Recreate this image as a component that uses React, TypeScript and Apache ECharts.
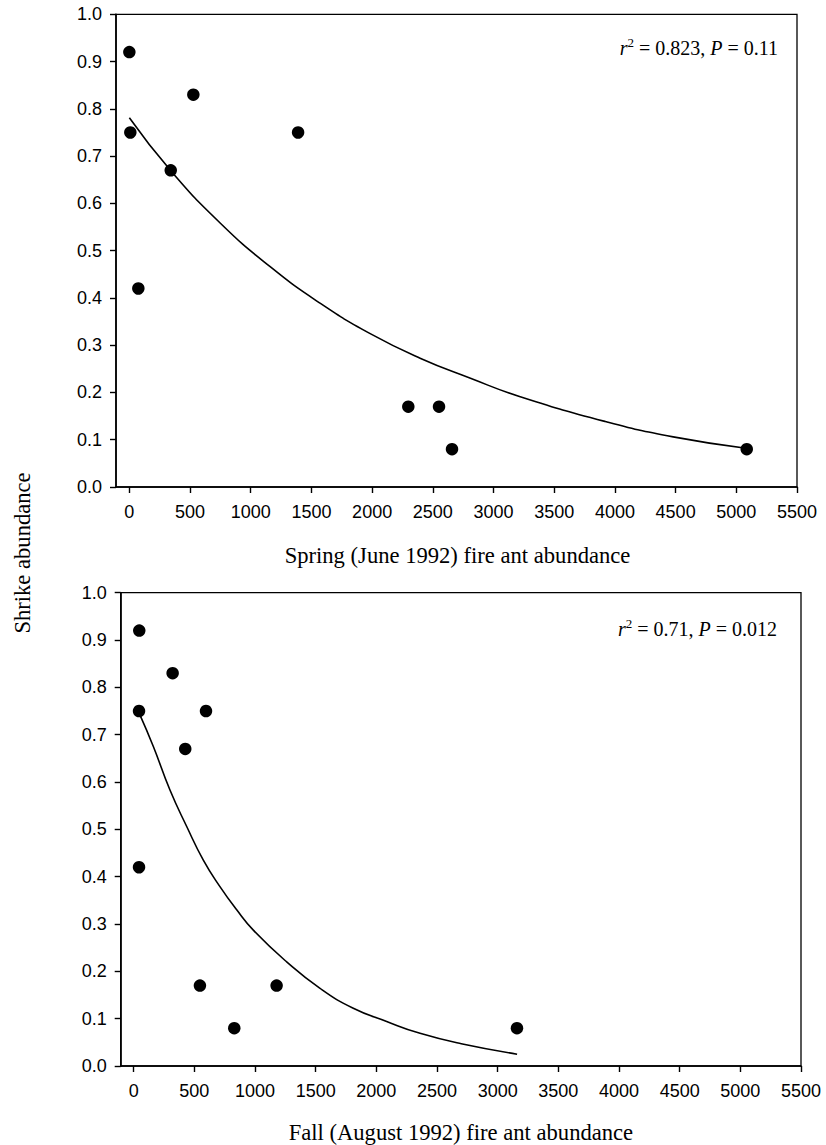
import React, { useEffect, useRef } from 'react';
import * as echarts from 'echarts';

// Spring (June 1992) panel
const springAnts = [0, 8, 74, 341, 527, 1390, 2298, 2551, 2658, 5086];
const springShrike = [0.92, 0.75, 0.42, 0.67, 0.83, 0.75, 0.17, 0.17, 0.08, 0.08];
const springFitX = [0, 335, 750, 1160, 1570, 1980, 2400, 2810, 3220, 3930, 4480, 5080];
const springFitY = [0.781, 0.671, 0.558, 0.466, 0.389, 0.325, 0.272, 0.23, 0.191, 0.138, 0.106, 0.082];

// Fall (August 1992) panel
const fallAnts = [46, 44, 44, 321, 425, 596, 546, 829, 1178, 3159];
const fallShrike = [0.92, 0.75, 0.42, 0.83, 0.67, 0.75, 0.17, 0.08, 0.17, 0.08];
const fallFitX = [46, 162, 299, 437, 574, 711, 849, 986, 1261, 1536, 1810, 2085, 2360, 2700, 3160];
const fallFitY = [0.745, 0.675, 0.583, 0.506, 0.435, 0.379, 0.33, 0.287, 0.22, 0.164, 0.122, 0.094, 0.069, 0.047, 0.025];

const xTicks = [0, 500, 1000, 1500, 2000, 2500, 3000, 3500, 4000, 4500, 5000, 5500];

const springTitle = 'Spring (June 1992) fire ant abundance';
const fallTitle = 'Fall (August 1992) fire ant abundance';
const yTitle = 'Shrike abundance';
const springStat = '{i|r}{sup|2}{t| = 0.823, }{i|P}{t| = 0.11}';
const fallStat = '{i|r}{sup|2}{t| = 0.71, }{i|P}{t| = 0.012}';

const SANS = 'Arial, sans-serif';
const SERIF = '"Liberation Serif", "Times New Roman", serif';
const LABEL_SIZE = 18;

function zip(xs: number[], ys: number[]) {
  return xs.map((x, i) => [x, ys[i]]);
}

function xAxis(gridIndex: number, min: number) {
  return {
    type: 'value',
    gridIndex,
    min,
    max: 5500,
    axisLine: { show: true, onZero: false, lineStyle: { color: '#000', width: 1.6 } },
    axisTick: { show: true, customValues: xTicks, length: 6, lineStyle: { color: '#000', width: 1.4 } },
    axisLabel: {
      customValues: xTicks,
      color: '#000',
      fontFamily: SANS,
      fontSize: LABEL_SIZE,
      margin: 16,
      formatter: (v: number) => String(v),
    },
    splitLine: { show: false },
  };
}

function yAxis(gridIndex: number) {
  return {
    type: 'value',
    gridIndex,
    min: 0,
    max: 1,
    interval: 0.1,
    axisLine: { show: true, onZero: false, lineStyle: { color: '#000', width: 1.6 } },
    axisTick: { show: true, length: 6, lineStyle: { color: '#000', width: 1.4 } },
    axisLabel: {
      color: '#000',
      fontFamily: SANS,
      fontSize: LABEL_SIZE,
      margin: 14,
      formatter: (v: number) => v.toFixed(1),
    },
    splitLine: { show: false },
  };
}

const statRich = {
  t: { fontFamily: SERIF, fontSize: 20, fill: '#000' },
  i: { fontStyle: 'italic', fontFamily: SERIF, fontSize: 20, fill: '#000' },
  sup: { fontFamily: SERIF, fontSize: 13, verticalAlign: 'top', fill: '#000' },
};

export default function App() {
  const ref = useRef<HTMLDivElement>(null);
  useEffect(() => {
    const chart = echarts.init(ref.current!, null, { renderer: 'svg' });
    chart.setOption({
      animation: false,
      backgroundColor: '#fff',
      grid: [
        { left: 116, top: 14.3, width: 681, height: 472.7, show: true, borderColor: '#000', borderWidth: 1.3, containLabel: false },
        { left: 120.7, top: 592.7, width: 680.3, height: 473.3, show: true, borderColor: '#000', borderWidth: 1.3, containLabel: false },
      ],
      xAxis: [xAxis(0, -110), xAxis(1, -107)],
      yAxis: [yAxis(0), yAxis(1)],
      series: [
        {
          type: 'line',
          xAxisIndex: 0,
          yAxisIndex: 0,
          data: zip(springFitX, springFitY),
          smooth: 0.5,
          showSymbol: false,
          lineStyle: { color: '#000', width: 1.6 },
          z: 2,
        },
        {
          type: 'scatter',
          xAxisIndex: 0,
          yAxisIndex: 0,
          data: zip(springAnts, springShrike),
          symbol: 'circle',
          symbolSize: 12.5,
          itemStyle: { color: '#000', opacity: 1 },
          z: 3,
        },
        {
          type: 'line',
          xAxisIndex: 1,
          yAxisIndex: 1,
          data: zip(fallFitX, fallFitY),
          smooth: 0.5,
          showSymbol: false,
          lineStyle: { color: '#000', width: 1.6 },
          z: 2,
        },
        {
          type: 'scatter',
          xAxisIndex: 1,
          yAxisIndex: 1,
          data: zip(fallAnts, fallShrike),
          symbol: 'circle',
          symbolSize: 12.5,
          itemStyle: { color: '#000', opacity: 1 },
          z: 3,
        },
      ],
      graphic: [
        {
          type: 'text',
          x: 457.5,
          y: 555,
          style: { text: springTitle, fontFamily: SERIF, fontSize: 22.6, fill: '#000', align: 'center', verticalAlign: 'middle' },
        },
        {
          type: 'text',
          x: 460.9,
          y: 1132,
          style: { text: fallTitle, fontFamily: SERIF, fontSize: 22.6, fill: '#000', align: 'center', verticalAlign: 'middle' },
        },
        {
          type: 'text',
          x: 22,
          y: 553,
          rotation: Math.PI / 2,
          style: { text: yTitle, fontFamily: SERIF, fontSize: 22.6, fill: '#000', align: 'center', verticalAlign: 'middle' },
        },
        {
          type: 'text',
          x: 778,
          y: 48,
          style: {
            text: springStat,
            fontFamily: SERIF,
            fontSize: 20,
            fill: '#000',
            align: 'right',
            verticalAlign: 'middle',
            lineHeight: 24,
            rich: statRich,
          },
        },
        {
          type: 'text',
          x: 777,
          y: 629,
          style: {
            text: fallStat,
            fontFamily: SERIF,
            fontSize: 20,
            fill: '#000',
            align: 'right',
            verticalAlign: 'middle',
            lineHeight: 24,
            rich: statRich,
          },
        },
      ],
    });
    return () => chart.dispose();
  }, []);
  return <div ref={ref} style={{ position: 'absolute', left: 0, top: 0, width: 826, height: 1145 }} />;
}
